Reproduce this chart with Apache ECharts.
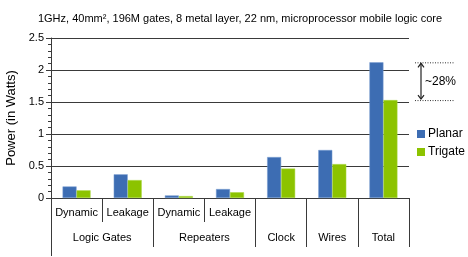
<!DOCTYPE html>
<html>
<head>
<meta charset="utf-8">
<script src="https://cdn.jsdelivr.net/npm/echarts@6/dist/echarts.min.js"></script>
<style>html,body{margin:0;padding:0;background:#fff}#c{width:468px;height:257px}</style>
</head>
<body>
<div id="c"></div>
<script>
// ---- data ----
var categories = ['LG-Dynamic', 'LG-Leakage', 'R-Dynamic', 'R-Leakage', 'Clock', 'Wires', 'Total'];
var subLabels = ['Dynamic', 'Leakage', 'Dynamic', 'Leakage', '', '', ''];
var groupNames = ['Logic Gates', 'Repeaters', 'Clock', 'Wires', 'Total'];
var groupSpans = [2, 2, 1, 1, 1];
var planar = [0.18, 0.37, 0.04, 0.14, 0.64, 0.75, 2.12];
var trigate = [0.12, 0.28, 0.03, 0.09, 0.46, 0.53, 1.53];
var yTicks = [0, 0.5, 1, 1.5, 2, 2.5];
var titleText = '1GHz, 40mm\u00b2, 196M gates, 8 metal layer, 22 nm, microprocessor mobile logic core';
var annotationText = '~28%';

// ---- build half-step axis for group labels/dividers ----
var nHalf = categories.length * 2 + 1;
var halfData = [];
for (var i = 0; i < nHalf; i++) halfData.push('');
var dividerIdx = [];
var labelIdx = {};
var pos = 0;
for (var g = 0; g < groupNames.length; g++) {
  var center = pos * 2 + groupSpans[g];
  halfData[center] = groupNames[g];
  labelIdx[center] = true;
  pos += groupSpans[g];
  dividerIdx.push(pos * 2);
}

var FONT = 'Liberation Sans, Arial, sans-serif';
var LINE = '#3a3a3a';

var chart = echarts.init(document.getElementById('c'), null, {renderer: 'canvas'});
var option = {
  animation: false,
  backgroundColor: '#fff',
  title: {
    text: titleText, left: 235, top: 8, textAlign: 'center',
    textStyle: {fontFamily: FONT, fontSize: 11, fontWeight: 'normal', color: '#000'}
  },
  legend: {
    orient: 'vertical', left: 412, top: 123, icon: 'rect',
    itemWidth: 8, itemHeight: 8, itemGap: 6,
    itemStyle: {borderWidth: 0},
    textStyle: {fontFamily: FONT, fontSize: 12, color: '#000', padding: [0, 0, 0, -2]},
    data: ['Planar', 'Trigate']
  },
  grid: {left: 51, top: 38, width: 358, height: 160, containLabel: false, outerBoundsMode: 'none'},
  xAxis: [
    {
      type: 'category', data: categories, boundaryGap: true,
      axisLine: {lineStyle: {color: LINE, width: 1}},
      axisTick: {show: true, interval: 0, length: 24, lineStyle: {color: LINE}},
      axisLabel: {interval: 0, margin: 9, fontFamily: FONT, fontSize: 11, color: '#000',
        formatter: function (v, idx) { return subLabels[idx]; }},
      splitLine: {show: false}
    },
    {
      type: 'category', data: halfData, boundaryGap: false, position: 'bottom',
      axisLine: {show: false},
      axisTick: {show: true, length: 49, lineStyle: {color: LINE},
        interval: function (idx) { return dividerIdx.indexOf(idx) >= 0; }},
      axisLabel: {margin: 34, fontFamily: FONT, fontSize: 11, color: '#000',
        interval: function (idx) { return !!labelIdx[idx]; }},
      splitLine: {show: false}
    },
    {
      type: 'category', data: halfData, boundaryGap: false, position: 'bottom',
      axisLine: {show: false},
      axisTick: {show: true, length: 58, lineStyle: {color: LINE},
        interval: function (idx) { return idx === 0; }},
      axisLabel: {show: false},
      splitLine: {show: false}
    }
  ],
  yAxis: {
    type: 'value', min: yTicks[0], max: yTicks[yTicks.length - 1], interval: yTicks[1] - yTicks[0],
    name: 'Power (in Watts)', nameLocation: 'middle', nameGap: 28, nameRotate: 90,
    nameTextStyle: {fontFamily: FONT, fontSize: 13, color: '#000'},
    axisLine: {show: true, lineStyle: {color: LINE}},
    axisTick: {show: true, length: 5, lineStyle: {color: LINE}},
    minorTick: {show: true, splitNumber: 5, length: 3, lineStyle: {color: LINE}},
    axisLabel: {margin: 7, fontFamily: FONT, fontSize: 11, color: '#000',
      formatter: function (v) { return String(v); }},
    splitLine: {show: true, lineStyle: {color: LINE, width: 1}}
  },
  series: [
    {name: 'Planar', type: 'bar', data: planar, barWidth: 14, barGap: '0%',
      itemStyle: {color: '#3d6db3', borderColor: '#7a9fd3', borderWidth: 0.5}},
    {name: 'Trigate', type: 'bar', data: trigate, barWidth: 14, barGap: '0%',
      itemStyle: {color: '#8cc300', borderColor: '#a8d640', borderWidth: 0.5}}
  ]
};
chart.setOption(option);

// annotation: dotted lines at Total values, double arrow, label
var lastIdx = categories.length - 1;
var yTop = chart.convertToPixel({yAxisIndex: 0}, planar[lastIdx]);
var yBot = chart.convertToPixel({yAxisIndex: 0}, trigate[lastIdx]);
var gridRight = chart.convertToPixel({xAxisIndex: 1}, nHalf - 1);
var x0 = gridRight + 6, x1 = gridRight + 45, ax = gridRight + 12;
var dot = {stroke: '#333', lineWidth: 1, lineDash: [1, 1.5]};
var solid = {stroke: '#222', lineWidth: 1.2, fill: null};
chart.setOption({
  graphic: [
    {type: 'line', shape: {x1: x0, y1: yTop + 0.5, x2: x1, y2: yTop + 0.5}, style: dot, silent: true},
    {type: 'line', shape: {x1: x0, y1: yBot + 0.5, x2: x1, y2: yBot + 0.5}, style: dot, silent: true},
    {type: 'line', shape: {x1: ax, y1: yTop + 1, x2: ax, y2: yBot - 1}, style: solid, silent: true},
    {type: 'polyline', shape: {points: [[ax - 3, yTop + 5], [ax, yTop + 1], [ax + 3, yTop + 5]]}, style: solid, silent: true},
    {type: 'polyline', shape: {points: [[ax - 3, yBot - 5], [ax, yBot - 1], [ax + 3, yBot - 5]]}, style: solid, silent: true},
    {type: 'text', x: ax + 4, y: (yTop + yBot) / 2,
      style: {text: annotationText, fontFamily: FONT, fontSize: 12, fill: '#000', textVerticalAlign: 'middle', verticalAlign: 'middle'}, silent: true}
  ]
});
</script>
</body>
</html>
